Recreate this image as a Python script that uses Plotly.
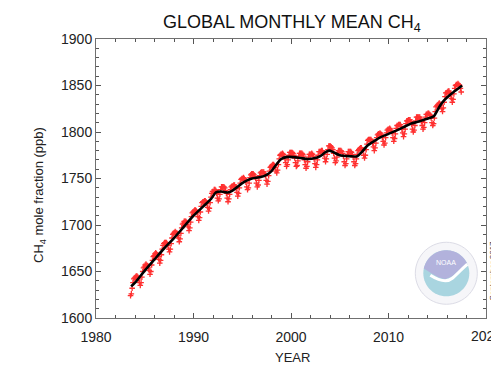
import numpy as np
import plotly.graph_objects as go

# ---------------- data ----------------
# Monthly global mean CH4 (ppb), July 1983 .. June 2017
start_year = 1983
start_month = 7
ch4_monthly = [
    # 1983 (Jul-Dec)
    1624, 1626, 1632, 1638, 1642, 1643,
    # 1984
    1644, 1645, 1645, 1644, 1642, 1638, 1635, 1638, 1644, 1650, 1654, 1655,
    # 1985
    1657, 1658, 1657, 1656, 1654, 1651, 1647, 1650, 1657, 1662, 1666, 1667,
    # 1986
    1669, 1670, 1669, 1668, 1666, 1663, 1659, 1662, 1668, 1674, 1678, 1680,
    # 1987
    1681, 1681, 1681, 1680, 1678, 1674, 1671, 1674, 1680, 1686, 1690, 1691,
    # 1988
    1692, 1693, 1692, 1691, 1689, 1686, 1682, 1685, 1691, 1697, 1701, 1702,
    # 1989
    1704, 1704, 1704, 1703, 1701, 1698, 1694, 1697, 1703, 1709, 1713, 1714,
    # 1990
    1715, 1716, 1716, 1715, 1713, 1709, 1705, 1708, 1714, 1720, 1724, 1725,
    # 1991
    1725, 1726, 1726, 1725, 1723, 1719, 1715, 1718, 1724, 1730, 1734, 1736,
    # 1992
    1736, 1738, 1738, 1737, 1734, 1729, 1726, 1728, 1733, 1738, 1741, 1741,
    # 1993
    1741, 1741, 1740, 1737, 1734, 1729, 1725, 1728, 1733, 1738, 1741, 1742,
    # 1994
    1742, 1743, 1743, 1741, 1739, 1735, 1731, 1734, 1740, 1745, 1749, 1750,
    # 1995
    1750, 1751, 1750, 1748, 1746, 1741, 1738, 1740, 1745, 1751, 1754, 1755,
    # 1996
    1755, 1755, 1754, 1752, 1750, 1745, 1741, 1743, 1748, 1753, 1756, 1757,
    # 1997
    1757, 1757, 1757, 1755, 1753, 1748, 1744, 1747, 1753, 1758, 1762, 1763,
    # 1998
    1764, 1765, 1765, 1764, 1762, 1758, 1756, 1759, 1765, 1771, 1775, 1776,
    # 1999
    1776, 1777, 1776, 1774, 1771, 1767, 1763, 1765, 1770, 1775, 1778, 1778,
    # 2000
    1778, 1778, 1777, 1775, 1772, 1767, 1763, 1764, 1769, 1774, 1777, 1777,
    # 2001
    1777, 1777, 1776, 1774, 1770, 1765, 1761, 1763, 1768, 1773, 1776, 1776,
    # 2002
    1776, 1777, 1776, 1774, 1771, 1766, 1762, 1765, 1770, 1775, 1779, 1779,
    # 2003
    1779, 1780, 1780, 1778, 1776, 1772, 1768, 1771, 1776, 1781, 1785, 1785,
    # 2004
    1785, 1784, 1783, 1781, 1777, 1772, 1767, 1769, 1773, 1778, 1780, 1780,
    # 2005
    1780, 1780, 1779, 1777, 1774, 1768, 1764, 1766, 1771, 1776, 1779, 1779,
    # 2006
    1779, 1779, 1778, 1776, 1773, 1768, 1764, 1766, 1771, 1776, 1780, 1781,
    # 2007
    1782, 1783, 1783, 1781, 1780, 1775, 1772, 1775, 1781, 1787, 1791, 1792,
    # 2008
    1792, 1792, 1792, 1790, 1788, 1784, 1780, 1783, 1788, 1794, 1797, 1798,
    # 2009
    1798, 1799, 1798, 1797, 1794, 1790, 1786, 1788, 1794, 1799, 1802, 1803,
    # 2010
    1803, 1804, 1803, 1801, 1799, 1794, 1790, 1793, 1798, 1804, 1807, 1807,
    # 2011
    1808, 1808, 1808, 1806, 1803, 1799, 1795, 1798, 1803, 1809, 1812, 1812,
    # 2012
    1813, 1813, 1813, 1811, 1808, 1803, 1800, 1802, 1807, 1812, 1816, 1816,
    # 2013
    1816, 1816, 1816, 1814, 1811, 1807, 1803, 1805, 1810, 1816, 1819, 1819,
    # 2014
    1820, 1820, 1819, 1818, 1815, 1810, 1807, 1809, 1815, 1822, 1827, 1828,
    # 2015
    1829, 1830, 1831, 1830, 1829, 1825, 1822, 1826, 1832, 1838, 1842, 1842,
    # 2016
    1843, 1844, 1844, 1842, 1840, 1836, 1832, 1835, 1841, 1847, 1850, 1851,
    # 2017 (Jan-Jun)
    1851, 1852, 1851, 1850, 1847, 1843,
]

# Deseasonalized trend (year, ppb)
trend_year = [1983.6, 1984.0, 1985.0, 1986.0, 1987.0, 1988.0, 1989.0, 1990.0,
              1991.0, 1991.8, 1992.3, 1992.8, 1993.5, 1994.0, 1994.5, 1995.0,
              1995.5, 1996.0, 1996.9, 1997.5, 1998.0, 1998.5, 1999.0, 1999.5,
              2000.3, 2001.0, 2001.7, 2002.5, 2003.0, 2003.5, 2003.9, 2004.4,
              2005.0, 2006.0, 2006.8, 2007.3, 2007.8, 2008.5, 2009.2, 2010.0,
              2010.9, 2011.5, 2012.3, 2013.0, 2013.6, 2014.2, 2014.65, 2015.0,
              2015.3, 2015.7, 2016.2, 2016.8, 2017.55]
trend_ch4 = [1634, 1638, 1651, 1663, 1675, 1686, 1698, 1710,
             1720, 1728, 1735, 1736, 1735, 1737, 1741, 1745,
             1748, 1750, 1751.5, 1754, 1758, 1765, 1771, 1773,
             1773, 1772, 1771, 1772, 1774, 1778, 1780, 1778,
             1775, 1774, 1774, 1779, 1785, 1790, 1794.5, 1798,
             1802, 1805, 1809, 1811, 1813, 1815, 1817, 1823,
             1828.5, 1834, 1839, 1844, 1850]

x_ticks = [1980, 1990, 2000, 2010, 2020]
y_ticks = [1600, 1650, 1700, 1750, 1800, 1850, 1900]

month_time = [start_year + (start_month - 1 + i + 0.5) / 12.0 for i in range(len(ch4_monthly))]

# ---------------- figure ----------------
FONT = "Liberation Sans, Arial, Helvetica, sans-serif"
TICKFONT = dict(family=FONT, size=14, color="#222222")
fig = go.Figure()

fig.add_trace(go.Scatter(
    x=month_time, y=ch4_monthly, mode="markers",
    marker=dict(symbol="cross-thin", size=4, color="#ff3030",
                line=dict(width=1.3, color="#ff3030")),
    hoverinfo="skip", showlegend=False))

fig.add_trace(go.Scatter(
    x=trend_year, y=trend_ch4, mode="lines",
    line=dict(color="black", width=2.6, shape="spline", smoothing=0.8),
    hoverinfo="skip", showlegend=False))

axis_common = dict(
    showgrid=False, zeroline=False, showline=True, linecolor="#707070", linewidth=1,
    mirror="ticks", ticks="inside", ticklen=5, tickwidth=1, tickcolor="#555555",
    tickfont=TICKFONT,
)

fig.update_xaxes(range=[1980, 2020], tickvals=x_ticks[:-1], ticktext=[str(v) for v in x_ticks[:-1]],
                 ticklabelstandoff=6,
                 minor=dict(dtick=2, tick0=1980, ticks="inside", ticklen=3, tickcolor="#555555"),
                 **axis_common)
fig.update_yaxes(range=[1600, 1900], tickvals=y_ticks, ticktext=[str(v) for v in y_ticks],
                 minor=dict(dtick=10, tick0=1600, ticks="inside", ticklen=3, tickcolor="#555555"),
                 **axis_common)

# last x tick label (cut by the page edge, as in the original)
fig.add_annotation(x=x_ticks[-1], xref="x", yref="paper", y=0, yshift=-18, yanchor="middle",
                   xanchor="center", text=str(x_ticks[-1]), showarrow=False, font=TICKFONT)

# ---------------- NOAA-style logo ----------------
lx, ly = 2015.93, 1648.1   # anchor in data coords


def circle_path(r, n=60):
    ang = np.linspace(0, 2 * np.pi, n, endpoint=False)
    pts = [f"{r*np.cos(a):.2f},{r*np.sin(a):.2f}" for a in ang]
    return "M" + " L".join(pts) + " Z"


def cap_path(r):
    ang = np.linspace(np.deg2rad(168), np.deg2rad(25), 40)
    pts = [f"{r*np.cos(a):.2f},{r*np.sin(a):.2f}" for a in ang]
    lower = ["13,3", "6,-3", "-1,-6", "-8,-4", "-15,0"]
    return "M" + " L".join(pts + lower) + " Z"


logo_common = dict(xref="x", yref="y", xsizemode="pixel", ysizemode="pixel",
                   xanchor=lx, yanchor=ly, layer="above")
fig.add_shape(type="path", path=circle_path(31), fillcolor="#f6f6f9",
              line=dict(color="#dcdce6", width=1), **logo_common)
fig.add_shape(type="path", path=circle_path(23), fillcolor="#a9d5e0",
              line=dict(width=0), **logo_common)
fig.add_shape(type="path", path=cap_path(23), fillcolor="#b2b2dc",
              line=dict(width=0), **logo_common)
fig.add_shape(type="path", path="M-16,-2 C-8,-7 0,-10 6,-5 C12,0 17,6 21,9",
              line=dict(color="white", width=3), **logo_common)
fig.add_annotation(x=lx, y=ly, xshift=0, yshift=11, text="NOAA", showarrow=False,
                   font=dict(family=FONT, size=7, color="white"))

# ---------------- texts ----------------
fig.add_annotation(xref="paper", yref="paper", x=0.5026, y=1.057, xanchor="center", yanchor="middle",
                   text="GLOBAL MONTHLY MEAN CH<sub>4</sub>", showarrow=False,
                   font=dict(family=FONT, size=18, color="#111111"))
fig.add_annotation(xref="paper", yref="paper", x=-0.1436, y=0.441, xanchor="center", yanchor="middle",
                   text="CH<sub>4</sub> mole fraction (ppb)", textangle=-90, showarrow=False,
                   font=dict(family=FONT, size=13, color="#222222"))
fig.add_annotation(xref="paper", yref="paper", x=0.5026, y=-0.143, xanchor="center", yanchor="middle",
                   text="YEAR", showarrow=False,
                   font=dict(family=FONT, size=13, color="#222222"))
fig.add_annotation(xref="paper", yref="paper", x=1.018, y=0.17, xanchor="center", yanchor="middle",
                   text="September 2017", textangle=-90, showarrow=False,
                   font=dict(family=FONT, size=8, color="#333333"))

# The page body has an 8px margin: figure is 8px smaller, left/top margins reduced by 8
fig.update_layout(
    width=491, height=358,
    margin=dict(l=88, r=13, t=31, b=48),
    paper_bgcolor="white", plot_bgcolor="white",
    showlegend=False,
)

fig.write_html("out.html")
